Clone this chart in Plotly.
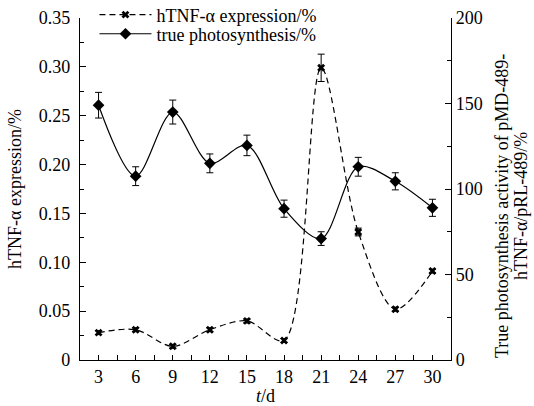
import plotly.graph_objects as go

days = [3, 6, 9, 12, 15, 18, 21, 24, 27, 30]
htnf_expr = [0.028, 0.031, 0.014, 0.031, 0.040, 0.020, 0.299, 0.131, 0.052, 0.091]
htnf_err = [0.002, 0.002, 0.002, 0.002, 0.002, 0.002, 0.014, 0.004, 0.002, 0.002]
photo = [149.0, 107.5, 145.0, 115.0, 125.5, 88.5, 71.0, 113.0, 104.5, 89.0]
photo_err = [7.5, 5.5, 7.0, 5.5, 6.0, 5.0, 4.0, 5.5, 5.0, 5.0]

x_ticks = [3, 6, 9, 12, 15, 18, 21, 24, 27, 30]
left_tickvals = [0, 0.05, 0.10, 0.15, 0.20, 0.25, 0.30, 0.35]
left_ticktext = ["0", "0.05", "0.10", "0.15", "0.20", "0.25", "0.30", "0.35"]
right_tickvals = [0, 50, 100, 150, 200]
right_title_lines = ["True photosynthesis activity of pMD-489-", "hTNF-α/pRL-489/%"]

FONT = "Liberation Serif"
FS = 18

fig = go.Figure()
fig.add_trace(go.Scatter(
    x=days, y=htnf_expr, name="hTNF-α expression/%",
    mode="lines+markers", line=dict(color="black", width=1.2, dash="6px,4px", shape="spline", smoothing=0.9),
    marker=dict(symbol="x", size=7, color="black", line=dict(width=0)),
    error_y=dict(type="data", array=htnf_err, color="black", thickness=1, width=3.5),
    yaxis="y", legend="legend",
))
fig.add_trace(go.Scatter(
    x=days, y=photo, name="true photosynthesis/%",
    mode="lines+markers", line=dict(color="black", width=1.2, shape="spline", smoothing=0.9),
    marker=dict(symbol="diamond", size=9, color="black"),
    error_y=dict(type="data", array=photo_err, color="black", thickness=1, width=3.5),
    yaxis="y2", legend="legend2",
))

annotations = []
for txt, dx in zip(right_title_lines, [51, 70]):
    annotations.append(dict(
        text=txt, xref="paper", yref="paper", x=1, y=0.45, xshift=dx,
        xanchor="center", yanchor="middle", textangle=-90, showarrow=False,
        font=dict(family=FONT, size=FS, color="black"),
    ))

leg_common = dict(xanchor="left", yanchor="middle", bgcolor="rgba(0,0,0,0)",
                  font=dict(size=FS, family=FONT), itemwidth=52)

fig.update_layout(
    width=534, height=406,
    margin=dict(l=80, r=83, t=18, b=46, autoexpand=False),
    paper_bgcolor="white", plot_bgcolor="white",
    font=dict(family=FONT, size=FS, color="black"),
    showlegend=True,
    legend=dict(x=0.039, y=1.009, **leg_common),
    legend2=dict(x=0.039, y=0.953, **leg_common),
    annotations=annotations,
    xaxis=dict(
        range=[1.5, 31.5], tickvals=x_ticks, showgrid=False, zeroline=False,
        showline=True, linecolor="black", linewidth=1.2, mirror=False,
        ticks="inside", ticklen=5, tickcolor="black", tickwidth=1,
        minor=dict(dtick=1.5, tick0=1.5, ticks="inside", ticklen=5, tickcolor="black", tickwidth=1),
        title=dict(text="<i>t</i>/d", font=dict(size=FS), standoff=4),
        tickfont=dict(size=FS),
    ),
    yaxis=dict(
        range=[0, 0.35], tickvals=left_tickvals, ticktext=left_ticktext, showgrid=False, zeroline=False,
        showline=True, linecolor="black", linewidth=1.2,
        ticks="inside", ticklen=6, tickcolor="black", tickwidth=1, ticklabelstandoff=5,
        minor=dict(dtick=0.025, tick0=0, ticks="inside", ticklen=4, tickcolor="black", tickwidth=1),
        title=dict(text="hTNF-α expression/%", font=dict(size=FS), standoff=12),
        tickfont=dict(size=FS),
    ),
    yaxis2=dict(
        range=[0, 200], tickvals=right_tickvals, overlaying="y", side="right", showgrid=False, zeroline=False,
        showline=True, linecolor="black", linewidth=1.2,
        ticks="inside", ticklen=6, tickcolor="black", tickwidth=1,
        minor=dict(dtick=25, tick0=0, ticks="inside", ticklen=4, tickcolor="black", tickwidth=1),
        tickfont=dict(size=FS),
    ),
)

fig.write_html("out.html", config={"displayModeBar": False},
               post_script="document.body.style.margin='0';")
